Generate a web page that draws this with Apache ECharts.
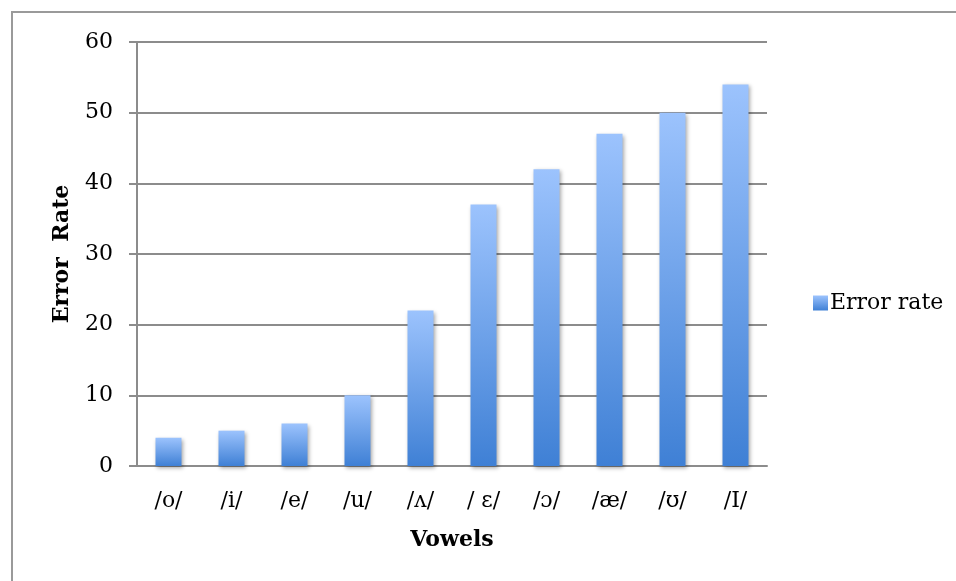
<!DOCTYPE html>
<html>
<head>
<meta charset="utf-8">
<script src="https://cdn.jsdelivr.net/npm/echarts@6/dist/echarts.min.js"></script>
<style>
html,body{margin:0;padding:0;background:#fff;}
#c{width:956px;height:581px;}
</style>
</head>
<body>
<div id="c"></div>
<script>
var categories = ['/o/', '/i/', '/e/', '/u/', '/ʌ/', '/ ɛ/', '/ɔ/', '/æ/', '/ʊ/', '/I/'];
var errorRate = [4, 5, 6, 10, 22, 37, 42, 47, 50, 54];
var seriesName = 'Error rate';
var xTitle = 'Vowels';
var yTitle = 'Error  Rate';

var FONT = '"DejaVu Serif", "Liberation Serif", serif';
var chart = echarts.init(document.getElementById('c'), null, {renderer: 'canvas'});
var grad = new echarts.graphic.LinearGradient(0, 0, 0, 1, [
  {offset: 0, color: '#9cc3fd'},
  {offset: 1, color: '#3f80d5'}
]);
chart.setOption({
  animation: false,
  textStyle: {fontFamily: FONT},
  graphic: [{
    type: 'rect', left: 11, top: 11, z: -10,
    shape: {width: 1200, height: 1200},
    style: {fill: 'transparent', stroke: '#9a9a9a', lineWidth: 2}
  }],
  grid: {left: 137, right: 189, top: 42, bottom: 115, containLabel: false},
  legend: {
    orient: 'vertical', left: 808, top: 287,
    itemWidth: 15, itemHeight: 15, itemGap: 6,
    icon: 'rect',
    textStyle: {fontFamily: FONT, fontSize: 22, color: '#000', padding: [0, 0, 0, -3]},
    data: [seriesName]
  },
  xAxis: {
    type: 'category', data: categories,
    name: xTitle, nameLocation: 'middle', nameGap: 63,
    nameTextStyle: {fontFamily: FONT, fontSize: 22, fontWeight: 'bold', color: '#000'},
    axisLine: {lineStyle: {color: '#8c8c8c', width: 2}},
    axisTick: {show: false},
    axisLabel: {fontFamily: FONT, fontSize: 22, color: '#000', margin: 24, interval: 0}
  },
  yAxis: {
    type: 'value', min: 0, max: 60, interval: 10,
    name: yTitle, nameLocation: 'middle', nameGap: 64, nameRotate: 90,
    nameTextStyle: {fontFamily: FONT, fontSize: 22, fontWeight: 'bold', color: '#000'},
    axisLine: {show: true, lineStyle: {color: '#8c8c8c', width: 2}},
    axisTick: {show: true, inside: false, length: 8, lineStyle: {color: '#8c8c8c', width: 2}},
    axisLabel: {fontFamily: FONT, fontSize: 22, color: '#000', margin: 24},
    splitLine: {lineStyle: {color: '#8c8c8c', width: 2}}
  },
  series: [{
    name: seriesName, type: 'bar', data: errorRate,
    barWidth: 26,
    itemStyle: {
      color: grad,
      shadowColor: 'rgba(0,0,0,0.35)', shadowBlur: 4, shadowOffsetX: 1, shadowOffsetY: 2
    }
  }]
});
</script>
</body>
</html>
